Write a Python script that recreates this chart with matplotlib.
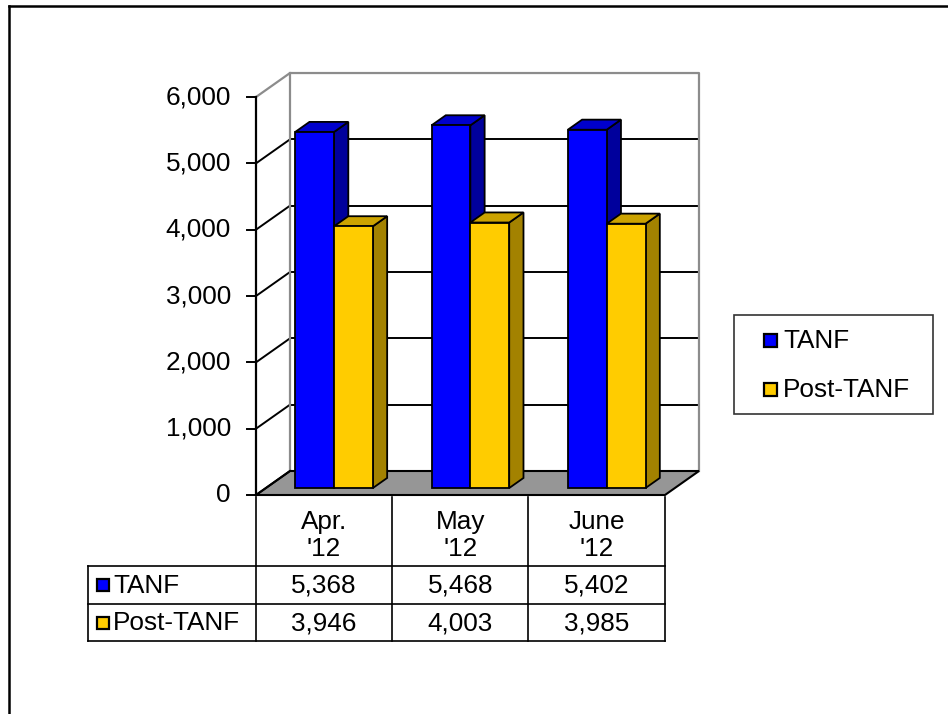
import matplotlib
matplotlib.use("Agg")
import matplotlib.pyplot as plt
from matplotlib.patches import Polygon, Rectangle

plt.rcParams['font.family'] = ['Liberation Sans', 'DejaVu Sans']

categories = ["Apr.\n'12", "May\n'12", "June\n'12"]
series_names = ["TANF", "Post-TANF"]
tanf = [5368, 5468, 5402]
post_tanf = [3946, 4003, 3985]
yticks = [0, 1000, 2000, 3000, 4000, 5000, 6000]

front_colors = ['#0000FF', '#FFCC00']
top_colors = ['#0000CC', '#CCA300']
side_colors = ['#00009C', '#A38200']

FS = 18.8
W, H = 948, 714
fig = plt.figure(figsize=(W / 100, H / 100), dpi=100)

# pixel geometry of the front plane
PX_X0, PX_CAT = 256, 136.33
PX_Y0, PX_PER = 495, 0.06633
DX = 34 / PX_CAT
DY = 24 / PX_PER

ax = fig.add_axes([0, 0, 1, 1])
ax.set_xlim(-PX_X0 / PX_CAT, (W - PX_X0) / PX_CAT)
ax.set_ylim((PX_Y0 - H) / PX_PER, PX_Y0 / PX_PER)
ax.axis('off')

ncat = len(categories)
ymax = yticks[-1]

def P(u, v, d):
    return (u + d * DX, v + d * DY)

wall_gray = '#8c8c8c'
# back wall gridlines
for t in yticks[1:-1]:
    ax.plot([P(0, t, 1)[0], P(ncat, t, 1)[0]], [P(0, t, 1)[1]] * 2, color='black', lw=1.4, zorder=1)
    ax.plot([P(0, t, 0)[0], P(0, t, 1)[0]], [P(0, t, 0)[1], P(0, t, 1)[1]], color='black', lw=1.4, zorder=1)
# wall outlines
ax.plot([P(0, ymax, 0)[0], P(0, ymax, 1)[0], P(ncat, ymax, 1)[0], P(ncat, 0, 1)[0]],
        [P(0, ymax, 0)[1], P(0, ymax, 1)[1], P(ncat, ymax, 1)[1], P(ncat, 0, 1)[1]],
        color=wall_gray, lw=1.6, zorder=1)
ax.plot([P(0, 0, 1)[0], P(0, ymax, 1)[0]], [P(0, 0, 1)[1], P(0, ymax, 1)[1]], color=wall_gray, lw=1.6, zorder=1)

# floor
floor = Polygon([P(0, 0, 0), P(ncat, 0, 0), P(ncat, 0, 1), P(0, 0, 1)], closed=True,
                facecolor='#969696', edgecolor='black', lw=1.5, zorder=2)
ax.add_patch(floor)
ax.plot([P(0, 0, 0)[0], P(0, 0, 1)[0]], [P(0, 0, 0)[1], P(0, 0, 1)[1]], color='black', lw=1.4, zorder=2)

# front value axis
ax.plot([0, 0], [0, ymax], color='black', lw=1.6, zorder=3)
tick_len = 9 / PX_CAT
for t in yticks:
    ax.plot([-tick_len, 0], [t, t], color='black', lw=1.4, zorder=3)
    ax.text(-25 / PX_CAT, t, f"{t:,}", ha='right', va='center', fontsize=FS, zorder=3)

# bars
d0, d1 = 0.29, 0.71
bw = 0.285
values = [tanf, post_tanf]
z = 4
for i in range(ncat):
    for s, vals in enumerate(values):
        x0 = i + 0.5 - bw + s * bw
        x1 = x0 + bw
        v = vals[i]
        side = Polygon([P(x1, 0, d0), P(x1, 0, d1), P(x1, v, d1), P(x1, v, d0)], closed=True,
                       facecolor=side_colors[s], edgecolor='black', lw=1.3, zorder=z)
        top = Polygon([P(x0, v, d0), P(x1, v, d0), P(x1, v, d1), P(x0, v, d1)], closed=True,
                      facecolor=top_colors[s], edgecolor='black', lw=1.3, zorder=z)
        fx, fy = P(x0, 0, d0)
        front = Rectangle((fx, fy), bw, v, facecolor=front_colors[s], edgecolor='black', lw=1.3, zorder=z)
        ax.add_patch(side)
        ax.add_patch(top)
        ax.add_patch(front)
        z += 1

# overlay axes in pixel coords for table, legend, frame
ax2 = fig.add_axes([0, 0, 1, 1], zorder=5)
ax2.set_xlim(0, W)
ax2.set_ylim(H, 0)
ax2.axis('off')
ax2.patch.set_alpha(0)

lc = 'black'
# outer frame
ax2.plot([9, W + 5], [6, 6], color=lc, lw=1.8)
ax2.plot([9, 9], [6, H + 5], color=lc, lw=1.8)

col_x = [256 + k * 136.2 for k in range(ncat + 1)]
left_x = 88
y_head_top, y_head_bot = 497, 566
row_y = [566, 604, 641]

for cx in col_x:
    ax2.plot([cx, cx], [y_head_top, row_y[-1]], color=lc, lw=1.2)
ax2.plot([left_x, left_x], [row_y[0], row_y[-1]], color=lc, lw=1.2)
for ry in row_y:
    ax2.plot([left_x, col_x[-1]], [ry, ry], color=lc, lw=1.2)

for k, cat in enumerate(categories):
    cxm = (col_x[k] + col_x[k + 1]) / 2
    ax2.text(cxm, (y_head_top + y_head_bot) / 2 + 4, cat, ha='center', va='center', fontsize=FS,
             linespacing=1.15)

for r, name in enumerate(series_names):
    ym = (row_y[r] + row_y[r + 1]) / 2
    ax2.add_patch(Rectangle((97, ym - 6), 12, 12, facecolor=front_colors[r], edgecolor='black', lw=1.6))
    ax2.text(113, ym + 1, name, ha='left', va='center', fontsize=FS)
    for k in range(ncat):
        cxm = (col_x[k] + col_x[k + 1]) / 2
        ax2.text(cxm, ym + 1, f"{values[r][k]:,}", ha='center', va='center', fontsize=FS)

# legend
ax2.add_patch(Rectangle((734, 315), 199, 99, facecolor='white', edgecolor='#333333', lw=1.2))
leg_y = [340, 389]
for r, name in enumerate(series_names):
    ax2.add_patch(Rectangle((764, leg_y[r] - 6.5), 13, 13, facecolor=front_colors[r], edgecolor='black', lw=1.6))
    ax2.text(783, leg_y[r] + 1, name, ha='left', va='center', fontsize=FS)

fig.savefig('out.png', dpi=100)
